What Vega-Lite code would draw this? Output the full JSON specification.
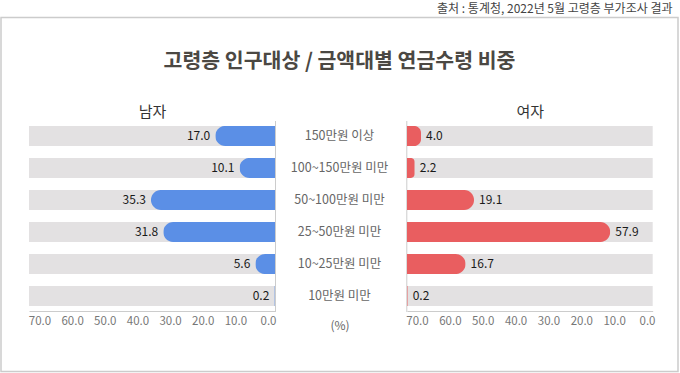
{
  "$schema": "https://vega.github.io/schema/vega-lite/v6.json",
  "width": 677,
  "height": 354,
  "autosize": {"type": "none"},
  "padding": {"left": 1, "top": 17.5, "right": 2, "bottom": 1.5},
  "background": "white",
  "config": {
    "view": {"stroke": "#cccccc", "strokeWidth": 1.5},
    "font": "Noto Sans CJK KR",
    "axis": {"grid": false, "ticks": false, "tickSize": 0, "labelOverlap": false}
  },
  "data": {
    "values": [
      {"cat": "150만원 이상", "male": 17.0, "female": 4.0},
      {"cat": "100~150만원 미만", "male": 10.1, "female": 2.2},
      {"cat": "50~100만원 미만", "male": 35.3, "female": 19.1},
      {"cat": "25~50만원 미만", "male": 31.8, "female": 57.9},
      {"cat": "10~25만원 미만", "male": 5.6, "female": 16.7},
      {"cat": "10만원 미만", "male": 0.2, "female": 0.2}
    ]
  },
  "layer": [
    {
      "encoding": {
        "y": {
          "field": "cat", "type": "nominal", "sort": null,
          "scale": {"range": [103, 294], "paddingInner": 0.376, "paddingOuter": 0.17},
          "axis": {
            "orient": "left", "offset": -274, "labels": false, "domain": true, "domainColor": "#cccccc", "domainWidth": 1,
            "title": "고령층 인구대상 / 금액대별 연금수령 비중",
            "titleAngle": 0, "titleX": 64, "titleY": 43.5, "titleAlign": "center", "titleBaseline": "middle",
            "titleFontSize": 20.5, "titleFontWeight": "bold", "titleColor": "#4b4843", "titleFont": "Noto Sans CJK KR"
          }
        }
      },
      "layer": [
        {
          "mark": {"type": "bar", "color": "#e3e1e2"},
          "encoding": {
            "x": {
              "datum": 70, "type": "quantitative",
              "scale": {"domain": [0, 70], "range": [274, 28], "zero": false, "nice": false},
              "axis": {
                "orient": "bottom", "offset": -60.5, "values": [0, 10, 20, 30, 40, 50, 60, 70], "format": ".1f",
                "labelFlush": false, "labelAlign": "center", "labelPadding": 4, "labelFontSize": 11.5, "labelColor": "#777777", "labelFont": "Noto Sans CJK KR",
                "labelOffset": {"expr": "-7 + 0.25 * datum.value"},
                "domain": true, "domainColor": "#cccccc",
                "title": "남자", "titleY": -199.5, "titleBaseline": "middle", "titleFontSize": 15, "titleFontWeight": "normal", "titleColor": "#333333"
              }
            },
            "x2": {"datum": 0}
          }
        },
        {
          "mark": {"type": "bar", "color": "#5b8fe6", "cornerRadiusTopLeft": 10, "cornerRadiusBottomLeft": 10},
          "encoding": {"x": {"field": "male", "type": "quantitative"}}
        },
        {
          "mark": {"type": "text", "align": "right", "baseline": "middle", "dx": -5, "fontSize": 12, "color": "#1a1a1a"},
          "encoding": {
            "x": {"field": "male", "type": "quantitative"},
            "text": {"field": "male", "type": "quantitative", "format": ".1f"}
          }
        }
      ]
    },
    {
      "encoding": {
        "y": {
          "field": "cat", "type": "nominal", "sort": null,
          "scale": {"range": [103, 294], "paddingInner": 0.376, "paddingOuter": 0.17},
          "axis": null
        }
      },
      "layer": [
        {
          "mark": {"type": "text", "baseline": "middle", "align": "center", "fontSize": 12.5, "color": "#666666"},
          "encoding": {
            "x": {
              "datum": 0.5, "type": "quantitative",
              "scale": {"domain": [0, 1], "zero": false, "nice": false},
              "axis": {
                "orient": "bottom", "offset": -60.5, "labels": false, "domain": false,
                "title": "(%)", "titleY": 14.5, "titleBaseline": "middle", "titleFontSize": 12, "titleFontWeight": "normal", "titleColor": "#666666"
              }
            },
            "text": {"field": "cat", "type": "nominal"}
          }
        }
      ]
    },
    {
      "encoding": {
        "y": {
          "field": "cat", "type": "nominal", "sort": null,
          "scale": {"range": [103, 294], "paddingInner": 0.376, "paddingOuter": 0.17},
          "axis": {
            "orient": "left", "offset": -405.3, "labels": false, "domain": true, "domainColor": "#cccccc", "domainWidth": 1,
            "title": "출처 : 통계청, 2022년 5월 고령층 부가조사 결과",
            "titleAngle": 0, "titleX": 265.7, "titleY": -9.5, "titleAlign": "right", "titleBaseline": "middle",
            "titleFontSize": 12, "titleFontWeight": "normal", "titleColor": "#444444"
          }
        }
      },
      "layer": [
        {
          "mark": {"type": "bar", "color": "#e3e1e2"},
          "encoding": {
            "x": {
              "datum": 70, "type": "quantitative",
              "scale": {"domain": [0, 70], "range": [406, 651.7], "zero": false, "nice": false},
              "axis": {
                "orient": "bottom", "offset": -60.5, "values": [0, 10, 20, 30, 40, 50, 60, 70],
                "labelExpr": "format(70 - datum.value, '.1f')",
                "labelFlush": false, "labelAlign": "center", "labelPadding": 4, "labelFontSize": 11.5, "labelColor": "#777777", "labelFont": "Noto Sans CJK KR",
                "labelOffset": {"expr": "10 - 0.224 * datum.value"},
                "domain": true, "domainColor": "#cccccc",
                "title": "여자", "titleY": -199.5, "titleBaseline": "middle", "titleFontSize": 15, "titleFontWeight": "normal", "titleColor": "#333333"
              }
            },
            "x2": {"datum": 0}
          }
        },
        {
          "mark": {"type": "bar", "color": "#e95e60", "cornerRadiusTopRight": 10, "cornerRadiusBottomRight": 10},
          "encoding": {"x": {"field": "female", "type": "quantitative"}}
        },
        {
          "mark": {"type": "text", "align": "left", "baseline": "middle", "dx": 5, "fontSize": 12, "color": "#1a1a1a"},
          "encoding": {
            "x": {"field": "female", "type": "quantitative"},
            "text": {"field": "female", "type": "quantitative", "format": ".1f"}
          }
        }
      ]
    }
  ],
  "resolve": {
    "scale": {"x": "independent"},
    "axis": {"x": "independent", "y": "independent"}
  }
}
